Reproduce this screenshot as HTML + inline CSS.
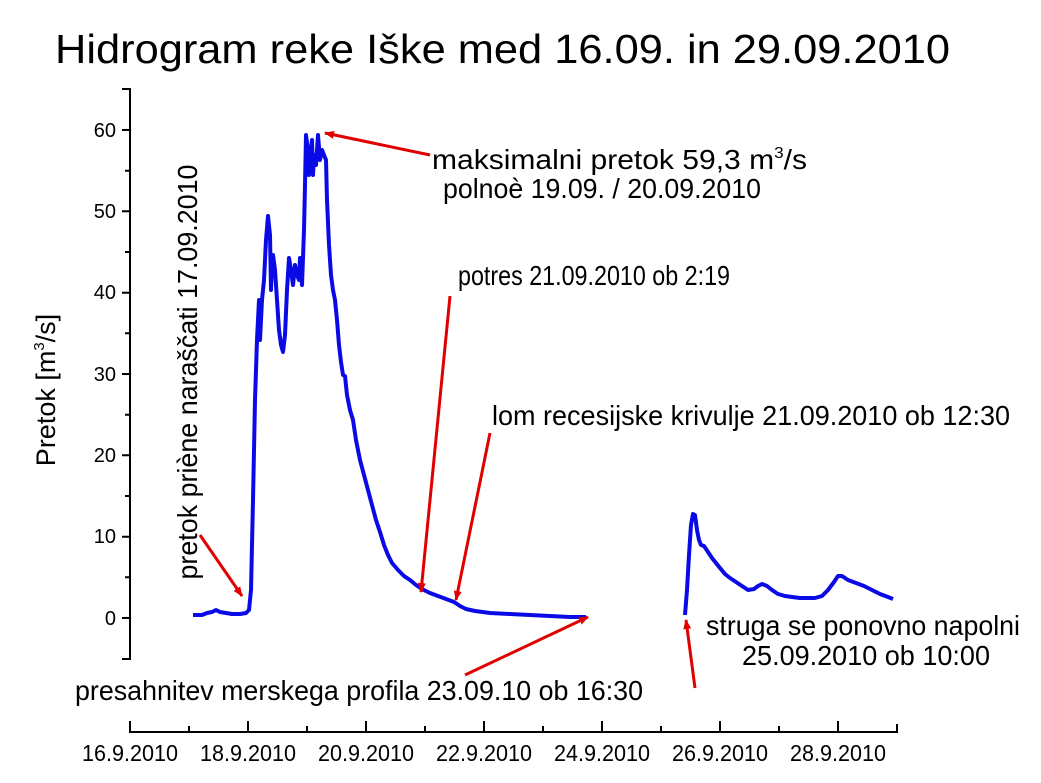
<!DOCTYPE html>
<html><head><meta charset="utf-8"><style>body{margin:0;background:#fff}svg{display:block}text{font-family:"Liberation Sans",Arial,sans-serif;fill:#000}</style></head>
<body>
<svg width="1041" height="783" viewBox="0 0 1041 783" xmlns="http://www.w3.org/2000/svg">
<defs><marker id="ah" markerWidth="10" markerHeight="8" refX="9" refY="4" orient="auto" markerUnits="userSpaceOnUse"><path d="M0,0 L10,4 L0,8 z" fill="#e00000"/></marker></defs>
<text x="55" y="63" font-size="41" textLength="895" lengthAdjust="spacingAndGlyphs">Hidrogram reke Iške med 16.09. in 29.09.2010</text>
<g stroke="#000" stroke-width="2" fill="none">
<path d="M122,89 H130 V659 H122"/>
<path d="M122,130H130M122,211.3H130M122,292.7H130M122,374H130M122,455.3H130M122,536.7H130M122,618H130"/>
<path d="M125,170.7H130M125,252H130M125,333.3H130M125,414.7H130M125,496H130M125,577.3H130"/>
<path d="M130,721 V732 H897 V724"/>
<path d="M248,721V732M366,721V732M484,721V732M602,721V732M720,721V732M838,721V732"/>
<path d="M189,726V732M307,726V732M425,726V732M543,726V732M661,726V732M779,726V732"/>
</g>
<g font-size="20" text-anchor="end">
<text x="116" y="137">60</text><text x="116" y="218">50</text><text x="116" y="299">40</text><text x="116" y="381">30</text><text x="116" y="462">20</text><text x="116" y="543">10</text><text x="116" y="625">0</text>
</g>
<g font-size="23">
<text x="82" y="761" textLength="96" lengthAdjust="spacingAndGlyphs">16.9.2010</text>
<text x="200" y="761" textLength="96" lengthAdjust="spacingAndGlyphs">18.9.2010</text>
<text x="318" y="761" textLength="96" lengthAdjust="spacingAndGlyphs">20.9.2010</text>
<text x="436" y="761" textLength="96" lengthAdjust="spacingAndGlyphs">22.9.2010</text>
<text x="554" y="761" textLength="96" lengthAdjust="spacingAndGlyphs">24.9.2010</text>
<text x="672" y="761" textLength="96" lengthAdjust="spacingAndGlyphs">26.9.2010</text>
<text x="790" y="761" textLength="96" lengthAdjust="spacingAndGlyphs">28.9.2010</text>
</g>
<text transform="translate(55,390) rotate(-90)" font-size="27" text-anchor="middle">Pretok [m<tspan font-size="15" dy="-11">3</tspan><tspan dy="11">/s]</tspan></text>
<text transform="translate(197,372) rotate(-90)" font-size="28" text-anchor="middle" textLength="415" lengthAdjust="spacingAndGlyphs">pretok priène naraščati 17.09.2010</text>
<g stroke="#0a0ae6" stroke-width="4" fill="none" stroke-linejoin="round">
<polyline points="193,615 202,615 207,613 212,612 216,610 220,612 226,613 232,614 240,614 246,613 249,610 251,590 253,500 255,400 257,340 259,300 260,340 262,300 264,280 266,240 268,216 270,235 271,290 272,260 273,255 275,270 277,300 279,330 281,345 283,352 285,335 287,290 289,258 291,270 293,285 295,265 297,275 299,280 300,258 302,285 304,230 305,185 306,135 308,150 309,175 310,160 312,140 313,175 314,155 316,165 318,135 320,160 322,150 324,155 326,160 327,200 329,245 331,275 333,290 335,300 337,320 339,345 341,362 343,375 345,376 347,395 350,410 353,420 356,440 360,460 364,475 368,490 372,505 376,520 380,532 384,545 388,555 392,563 398,570 404,576 410,580 416,585 422,589 430,593 438,596 446,599 454,602 460,606 466,609 475,611 490,613 510,614 530,615 550,616 570,617 586,617"/>
<polyline points="685,615 687,590 689,555 691,525 693,514 695,515 697,530 699,540 701,545 704,546 708,552 712,558 716,563 720,568 725,574 730,578 736,582 742,586 748,590 754,589 758,586 762,584 767,586 772,590 778,594 785,596 792,597 800,598 808,598 815,598 822,596 828,590 834,582 838,576 842,576 848,580 856,583 864,586 872,590 880,594 888,597 893,599"/>
</g>
<g stroke="#e00000" stroke-width="3" marker-end="url(#ah)">
<line x1="430" y1="155" x2="325" y2="133"/>
<line x1="450" y1="296" x2="421" y2="592"/>
<line x1="490" y1="433" x2="456" y2="600"/>
<line x1="200" y1="535" x2="242" y2="596"/>
<line x1="695" y1="688" x2="686" y2="620"/>
<line x1="465" y1="675" x2="588" y2="617"/>
</g>
<g font-size="28">
<text x="432" y="169" textLength="375" lengthAdjust="spacingAndGlyphs">maksimalni pretok 59,3 m<tspan font-size="16" dy="-11">3</tspan><tspan dy="11">/s</tspan></text>
<text x="443" y="198" textLength="318" lengthAdjust="spacingAndGlyphs">polnoè 19.09. / 20.09.2010</text>
<text x="458" y="285" textLength="272" lengthAdjust="spacingAndGlyphs">potres 21.09.2010 ob 2:19</text>
<text x="492" y="425" textLength="518" lengthAdjust="spacingAndGlyphs">lom recesijske krivulje 21.09.2010 ob 12:30</text>
<text x="706" y="635" textLength="314" lengthAdjust="spacingAndGlyphs">struga se ponovno napolni</text>
<text x="742" y="665" textLength="248" lengthAdjust="spacingAndGlyphs">25.09.2010 ob 10:00</text>
<text x="75" y="700" textLength="568" lengthAdjust="spacingAndGlyphs">presahnitev merskega profila 23.09.10 ob 16:30</text>
</g>
</svg>
</body></html>
